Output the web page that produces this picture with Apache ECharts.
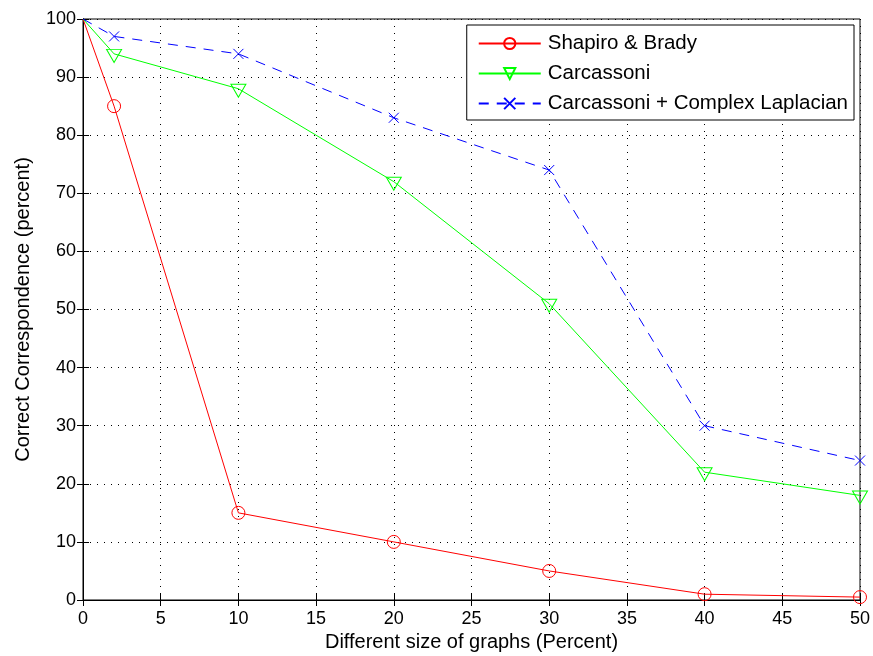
<!DOCTYPE html>
<html>
<head>
<meta charset="utf-8">
<script src="https://cdn.jsdelivr.net/npm/echarts@6/dist/echarts.min.js"></script>
<style>
  html, body { margin: 0; padding: 0; background: #fff; }
  #main { width: 873px; height: 656px; }
</style>
</head>
<body>
<div id="main"></div>
<script>
// x positions (percent of graph size)
const sizes = [0, 2, 10, 20, 30, 40, 50];
const shapiroBrady = [100, 85, 15, 10, 5, 1, 0.5];
const carcassoni = [100, 94, 88, 72, 51, 22, 18];
const carcassoniLaplacian = [100, 97, 94, 83, 74, 30, 24];

const xTicks = [0, 5, 10, 15, 20, 25, 30, 35, 40, 45, 50];
const yTicks = [0, 10, 20, 30, 40, 50, 60, 70, 80, 90, 100];

const chart = echarts.init(document.getElementById('main'));
const font = 'Liberation Sans, Arial, sans-serif';

// first point (x=0) has no marker in the original
function pts(ys) {
  return sizes.map((x, i) => i === 0 ? { value: [x, ys[i]], symbol: 'none' } : [x, ys[i]]);
}

const triDown = 'path://M0,0L14,0L7,12Z';
const cross = 'path://M0,0L10,10M10,0L0,10';

const axisCommon = {
  type: 'value',
  axisLine: { show: true, lineStyle: { color: '#000', width: 1 } },
  axisTick: { show: true, inside: true, length: 6, lineStyle: { color: '#000' } },
};
const nameStyle = { color: '#000', fontSize: 20, fontFamily: font };

let option = {
  backgroundColor: '#fff',
  animation: false,
  textStyle: { fontFamily: font },
  grid: {
    left: 83, right: 13, top: 19, bottom: 56,
    outerBoundsMode: 'none', containLabel: false,
    show: true, borderColor: '#000', borderWidth: 1,
  },
  legend: {
    orient: 'vertical',
    right: 19,
    top: 25,
    padding: [8, 6, 6, 11],
    backgroundColor: '#fff',
    borderColor: '#000',
    borderWidth: 1,
    itemWidth: 62,
    itemHeight: 14,
    itemGap: 9,
    textStyle: { color: '#000', fontSize: 20.5, fontFamily: font, padding: [0, 0, 0, 2] },
    data: ['Shapiro & Brady', 'Carcassoni', 'Carcassoni + Complex Laplacian'],
  },
  xAxis: [
    Object.assign({}, axisCommon, {
      min: 0, max: 50, interval: 5,
      name: 'Different size of graphs (Percent)',
      nameLocation: 'middle', nameGap: 32,
      nameTextStyle: nameStyle,
      axisLabel: { color: '#000', fontSize: 18, fontFamily: font, margin: 10,
        formatter: v => xTicks.includes(v) ? String(v) : '' },
      splitLine: { show: true, lineStyle: { color: '#000', type: [1, 6], width: 1 } },
    }),
    Object.assign({}, axisCommon, {
      position: 'top', min: 0, max: 50, interval: 5,
      axisLabel: { show: false }, splitLine: { show: false },
    }),
  ],
  yAxis: [
    Object.assign({}, axisCommon, {
      min: 0, max: 100, interval: 10,
      name: 'Correct Correspondence (percent)',
      nameLocation: 'middle', nameGap: 50,
      nameTextStyle: nameStyle,
      axisLabel: { color: '#000', fontSize: 18, fontFamily: font, margin: 7,
        formatter: v => yTicks.includes(v) ? String(v) : '' },
      splitLine: { show: true, lineStyle: { color: '#000', type: [1, 6], width: 1 } },
    }),
    Object.assign({}, axisCommon, {
      position: 'right', min: 0, max: 100, interval: 10,
      axisLabel: { show: false }, splitLine: { show: false },
    }),
  ],
  series: [
    {
      name: 'Shapiro & Brady',
      type: 'line',
      data: pts(shapiroBrady),
      symbol: 'circle',
      symbolSize: 13,
      lineStyle: { color: '#ff0000', width: 1 },
      itemStyle: { color: 'rgba(0,0,0,0)', borderColor: '#ff0000', borderWidth: 1 },
      z: 3,
    },
    {
      name: 'Carcassoni',
      type: 'line',
      data: pts(carcassoni),
      symbol: triDown,
      symbolSize: [15, 13],
      symbolOffset: [0, 2],
      lineStyle: { color: '#00ff00', width: 1 },
      itemStyle: { color: 'rgba(0,0,0,0)', borderColor: '#00ff00', borderWidth: 1 },
      z: 3,
    },
    {
      name: 'Carcassoni + Complex Laplacian',
      type: 'line',
      data: pts(carcassoniLaplacian),
      symbol: cross,
      symbolSize: 10,
      lineStyle: { color: '#0000ff', width: 1, type: [10, 8] },
      itemStyle: { color: 'rgba(0,0,0,0)', borderColor: '#0000ff', borderWidth: 1 },
      z: 3,
    },
  ],
};
chart.setOption(option);
</script>
</body>
</html>
